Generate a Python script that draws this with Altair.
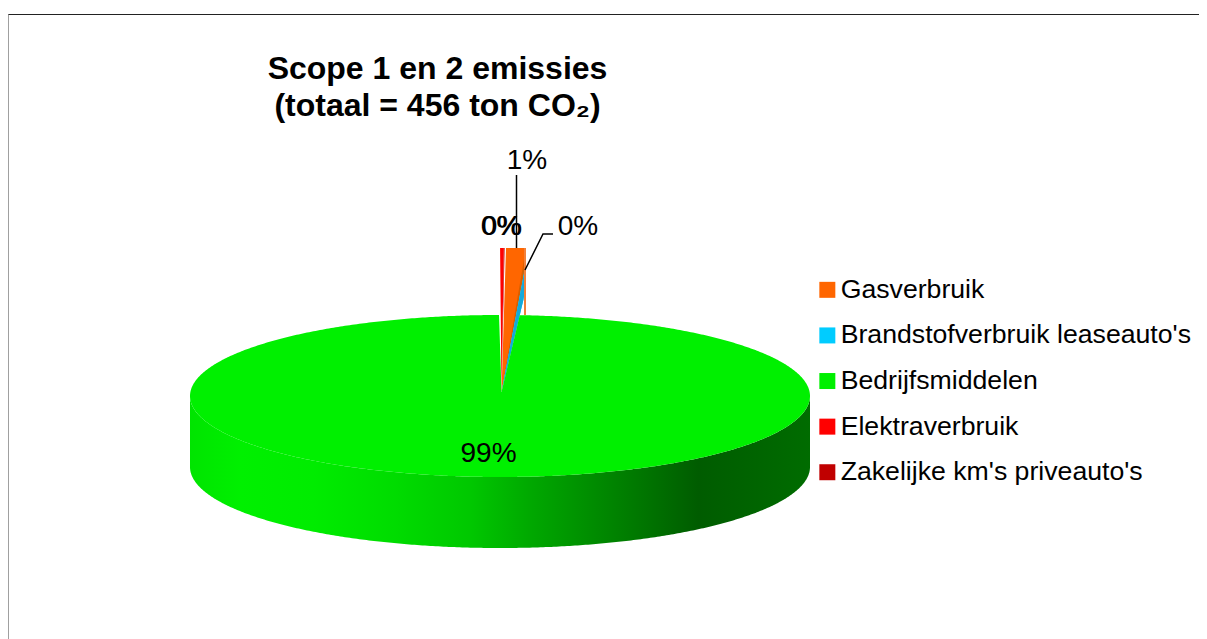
import numpy as np
import pandas as pd
import altair as alt

CATEGORIES = ["Gasverbruik", "Brandstofverbruik leaseauto's", "Bedrijfsmiddelen", "Elektraverbruik", "Zakelijke km's priveauto's"]
TONS = [3.0, 0.9, 450.9, 0.5, 0.1]
TOTAL = 456
COLORS = ["#FF6600", "#00CCFF", "#00F000", "#FF0000", "#C00000"]
FONT = "Liberation Sans"

# pie projection, in picture pixels
CX, CY, RX, RY, DEPTH = 500.0, 396.0, 310.0, 81.0, 71.0
AX, AY = 501.5, 392.0
TOP, RIGHT = 248.0, 524.0
START, GAP = 0.47, 0.33

deg = [v / TOTAL * 360 for v in TONS]
gas0 = START
gas1 = gas0 + deg[0]
blue1 = gas1 + deg[1]
green1 = blue1 + deg[2] - 360
el1 = green1 + GAP + deg[3]
zk1 = el1 + deg[4]


def ray(theta, y):
    return AX + (AY - y) * (RX / RY) * np.tan(np.radians(theta))


X = alt.Scale(domain=[8, 1199], range=[0, 1191], nice=False, zero=False)
Y = alt.Scale(domain=[8, 639], range=[0, 631], nice=False, zero=False)


def ex(name, title=None):
    return alt.X(name, type="quantitative", scale=X, axis=None)


def ey(name):
    return alt.Y(name, type="quantitative", scale=Y, axis=None)


legend = alt.Legend(
    title=None, orient="none", legendX=806, legendY=268.5,
    symbolType="square", symbolSize=256, symbolStrokeWidth=0, symbolOffset=0,
    labelFont=FONT, labelFontSize=26.67, labelColor="black", labelLimit=500,
    rowPadding=17.6, labelOffset=0,
)
color = alt.Color("serie:N", scale=alt.Scale(domain=CATEGORIES, range=COLORS), legend=legend)


def wedge(name, t0, t1, fill=None, top=TOP):
    ys = np.linspace(AY, top, 40)
    df = pd.DataFrame({
        "y": ys,
        "a": np.minimum(ray(t0, ys), RIGHT),
        "b": np.minimum(ray(t1, ys), RIGHT),
        "serie": name,
    })
    enc = dict(x=ex("a"), x2=alt.X2("b"), y=ey("y"))
    enc["color"] = color if fill is None else alt.value(fill)
    return alt.Chart(df).mark_area(orient="horizontal", line=False).encode(**enc)


# side wall of the disc
xs = CX + RX * np.cos(np.linspace(np.pi, 0, 361))
low = CY + RY * np.sqrt(np.clip(1 - ((xs - CX) / RX) ** 2, 0, 1))
side_df = pd.DataFrame({"x": xs, "y": low, "y2": low + DEPTH})
side = alt.Chart(side_df).mark_area(
    color=alt.Gradient(
        gradient="linear", x1=0, x2=1, y1=0, y2=0,
        stops=[
            alt.GradientStop(offset=0.0, color="#00E400"),
            alt.GradientStop(offset=0.08, color="#00F000"),
            alt.GradientStop(offset=0.20, color="#00EC00"),
            alt.GradientStop(offset=0.33, color="#00DC00"),
            alt.GradientStop(offset=0.45, color="#00C800"),
            alt.GradientStop(offset=0.55, color="#00A800"),
            alt.GradientStop(offset=0.65, color="#008C00"),
            alt.GradientStop(offset=0.75, color="#007000"),
            alt.GradientStop(offset=0.82, color="#005C00"),
            alt.GradientStop(offset=1.0, color="#006C00"),
        ],
    )
).encode(x=ex("x"), y=ey("y"), y2=alt.Y2("y2"))

# top face of the big slice, with the notch left by the small slices
sl = (RX / RY) * np.tan(np.radians(blue1))
sr = (RX / RY) * np.tan(np.radians(green1))
xt = np.unique(np.concatenate([xs, [AX], np.linspace(AX + sr * 78, AX + sl * 78, 60)]))
up = CY - RY * np.sqrt(np.clip(1 - ((xt - CX) / RX) ** 2, 0, 1))
dn = CY + RY * np.sqrt(np.clip(1 - ((xt - CX) / RX) ** 2, 0, 1))
notch = np.where(xt >= AX, AY - (xt - AX) / sl, AY - (xt - AX) / sr)
top_df = pd.DataFrame({"x": xt, "y": np.maximum(up, notch), "y2": dn, "serie": CATEGORIES[2]})
green = alt.Chart(top_df).mark_area(line=False).encode(x=ex("x"), y=ey("y"), y2=alt.Y2("y2"), color=color)

# strip along the right of the orange slice
strip_df = pd.DataFrame({"y": [TOP, 315.0], "a": [RIGHT, RIGHT], "b": [526.0, 526.0]})
strip = alt.Chart(strip_df).mark_area(orient="horizontal", color="#F2803A").encode(
    x=ex("a"), x2=alt.X2("b"), y=ey("y"))

# leader lines and frame
lead_df = pd.DataFrame({
    "x": [516.5, 516.5, 553.0, 543.0, 525.0],
    "y": [175.0, 248.0, 234.0, 234.0, 270.0],
    "k": ["a", "a", "b", "b", "b"],
    "o": [0, 1, 0, 1, 2],
})
lead = alt.Chart(lead_df).mark_line(color="black", strokeWidth=1.5).encode(
    x=ex("x"), y=ey("y"), detail="k:N", order="o:Q")

frame_top = alt.Chart(pd.DataFrame({"x": [8.0], "x2": [1199.0], "y": [14.5]})).mark_rule(
    color="#222222", strokeWidth=1).encode(x=ex("x"), x2=alt.X2("x2"), y=ey("y"))
frame_left = alt.Chart(pd.DataFrame({"x": [8.0], "y": [14.0], "y2": [639.0]})).mark_rule(
    color="#808080", strokeWidth=1.5).encode(x=ex("x"), y=ey("y"), y2=alt.Y2("y2"))

# data labels
labels = [f"{round(v / TOTAL * 100)}%" for v in TONS]
lab_df = pd.DataFrame({
    "x": [527.0, 578.0, 488.5, 501.0, 502.0],
    "y": [160.5, 227.0, 453.5, 227.0, 227.0],
    "t": labels,
})
text = alt.Chart(lab_df).mark_text(font=FONT, fontSize=28, color="black", baseline="middle", align="center").encode(
    x=ex("x"), y=ey("y"), text="t:N")

chart = alt.layer(
    frame_top, frame_left,
    wedge(CATEGORIES[3], green1 + GAP, el1),
    wedge(CATEGORIES[4], el1, zk1),
    wedge(CATEGORIES[0], gas0, gas1),
    wedge("shade", gas1 - 0.3, gas1, fill="#D65F00"),
    wedge(CATEGORIES[1], gas1, blue1),
    wedge("blue", gas1, blue1, fill="#14A9DB"),
    strip, side, green, lead, text,
).properties(
    width=1191, height=631, autosize="none", padding=0, background="white",
    title=alt.TitleParams(
        text=["Scope 1 en 2 emissies", "(totaal = 456 ton CO₂)"],
        font=FONT, fontSize=32, fontWeight="bold", color="black",
        anchor="middle", align="center", dx=-166, dy=119, lineHeight=37,
    ),
).configure_view(stroke=None)

chart.save("out.html", embed_options={"renderer": "svg", "actions": False})
